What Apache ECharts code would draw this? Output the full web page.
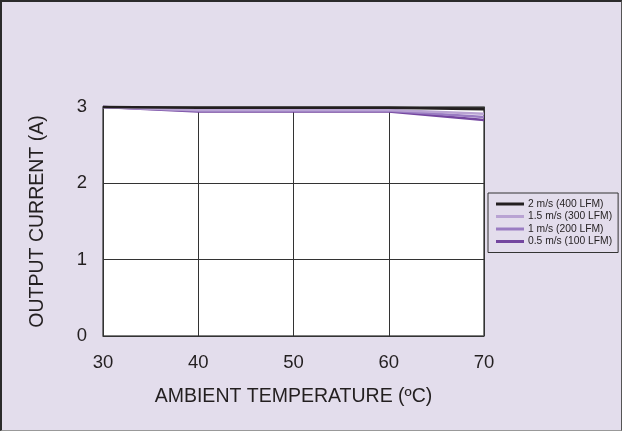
<!DOCTYPE html>
<html><head><meta charset="utf-8">
<script src="https://cdn.jsdelivr.net/npm/echarts@6/dist/echarts.min.js"></script>
<style>
html,body{margin:0;padding:0;background:#e3ddec;}
#frame{position:absolute;left:0;top:0;width:622px;height:431px;box-sizing:border-box;border-left:2px solid #2b2b2b;border-top:2px solid #2b2b2b;border-right:1px solid #555;border-bottom:1px solid #999;}
#c{position:absolute;left:0;top:0;width:622px;height:431px;}
</style></head>
<body><div id="c"></div><div id="frame"></div>
<script>
const temps = [30, 40, 50, 60, 70];
const seriesNames = ['2 m/s (400 LFM)', '1.5 m/s (300 LFM)', '1 m/s (200 LFM)', '0.5 m/s (100 LFM)'];
const s2 = [3.0, 2.99, 2.99, 2.99, 2.97];
const s15 = [3.0, 2.96, 2.96, 2.96, 2.91];
const s1 = [3.0, 2.95, 2.95, 2.95, 2.87];
const s05 = [3.0, 2.94, 2.94, 2.94, 2.83];
const yTicks = [0, 1, 2, 3];
const xTicks = [30, 40, 50, 60, 70];
const colors = ['#231f20', '#b9a3d3', '#9a7cc2', '#74469f'];
const allData = [s2, s15, s1, s05];

const chart = echarts.init(document.getElementById('c'));
const font = 'Liberation Sans, Arial, sans-serif';
chart.setOption({
  backgroundColor: '#e3ddec',
  animation: false,
  grid: {left: 103, right: 138, top: 107, bottom: 95, show: true, backgroundColor: '#ffffff', borderColor: '#555', borderWidth: 1.5},
  xAxis: {
    type: 'value', min: 30, max: 70, interval: 10,
    name: 'AMBIENT TEMPERATURE (ºC)', nameLocation: 'middle', nameGap: 51,
    nameTextStyle: {fontFamily: font, fontSize: 19.5, color: '#231f20'},
    axisLine: {show: false}, axisTick: {show: false},
    axisLabel: {fontFamily: font, fontSize: 18.5, color: '#231f20', margin: 17, formatter: v => xTicks.includes(v) ? String(v) : ''},
    splitLine: {show: true, lineStyle: {color: '#333', width: 1}}
  },
  yAxis: {
    type: 'value', min: 0, max: 3, interval: 1,
    name: 'OUTPUT CURRENT (A)', nameLocation: 'middle', nameGap: 55,
    nameTextStyle: {fontFamily: font, fontSize: 19.5, color: '#231f20'},
    axisLine: {show: false}, axisTick: {show: false},
    axisLabel: {fontFamily: font, fontSize: 18.5, color: '#231f20', margin: 16, formatter: v => yTicks.includes(v) ? String(v) : ''},
    splitLine: {show: true, lineStyle: {color: '#333', width: 1}}
  },
  legend: {
    orient: 'vertical', left: 488, top: 193,
    data: seriesNames,
    itemWidth: 28, itemHeight: 3, itemGap: 2.5,
    icon: 'rect',
    borderColor: '#333', borderWidth: 1, padding: [6, 6, 6, 8],
    backgroundColor: '#e3ddec',
    textStyle: {fontFamily: font, fontSize: 10.3, color: '#231f20', padding: [0, 0, 0, -1]}
  },
  series: seriesNames.map((n, i) => ({
    name: n, type: 'line', symbol: 'none', clip: false,
    lineStyle: {color: colors[i], width: 2.5},
    itemStyle: {color: colors[i]},
    z: 10 - i,
    data: temps.map((t, j) => [t, allData[i][j]])
  }))
});
</script>
</body></html>
